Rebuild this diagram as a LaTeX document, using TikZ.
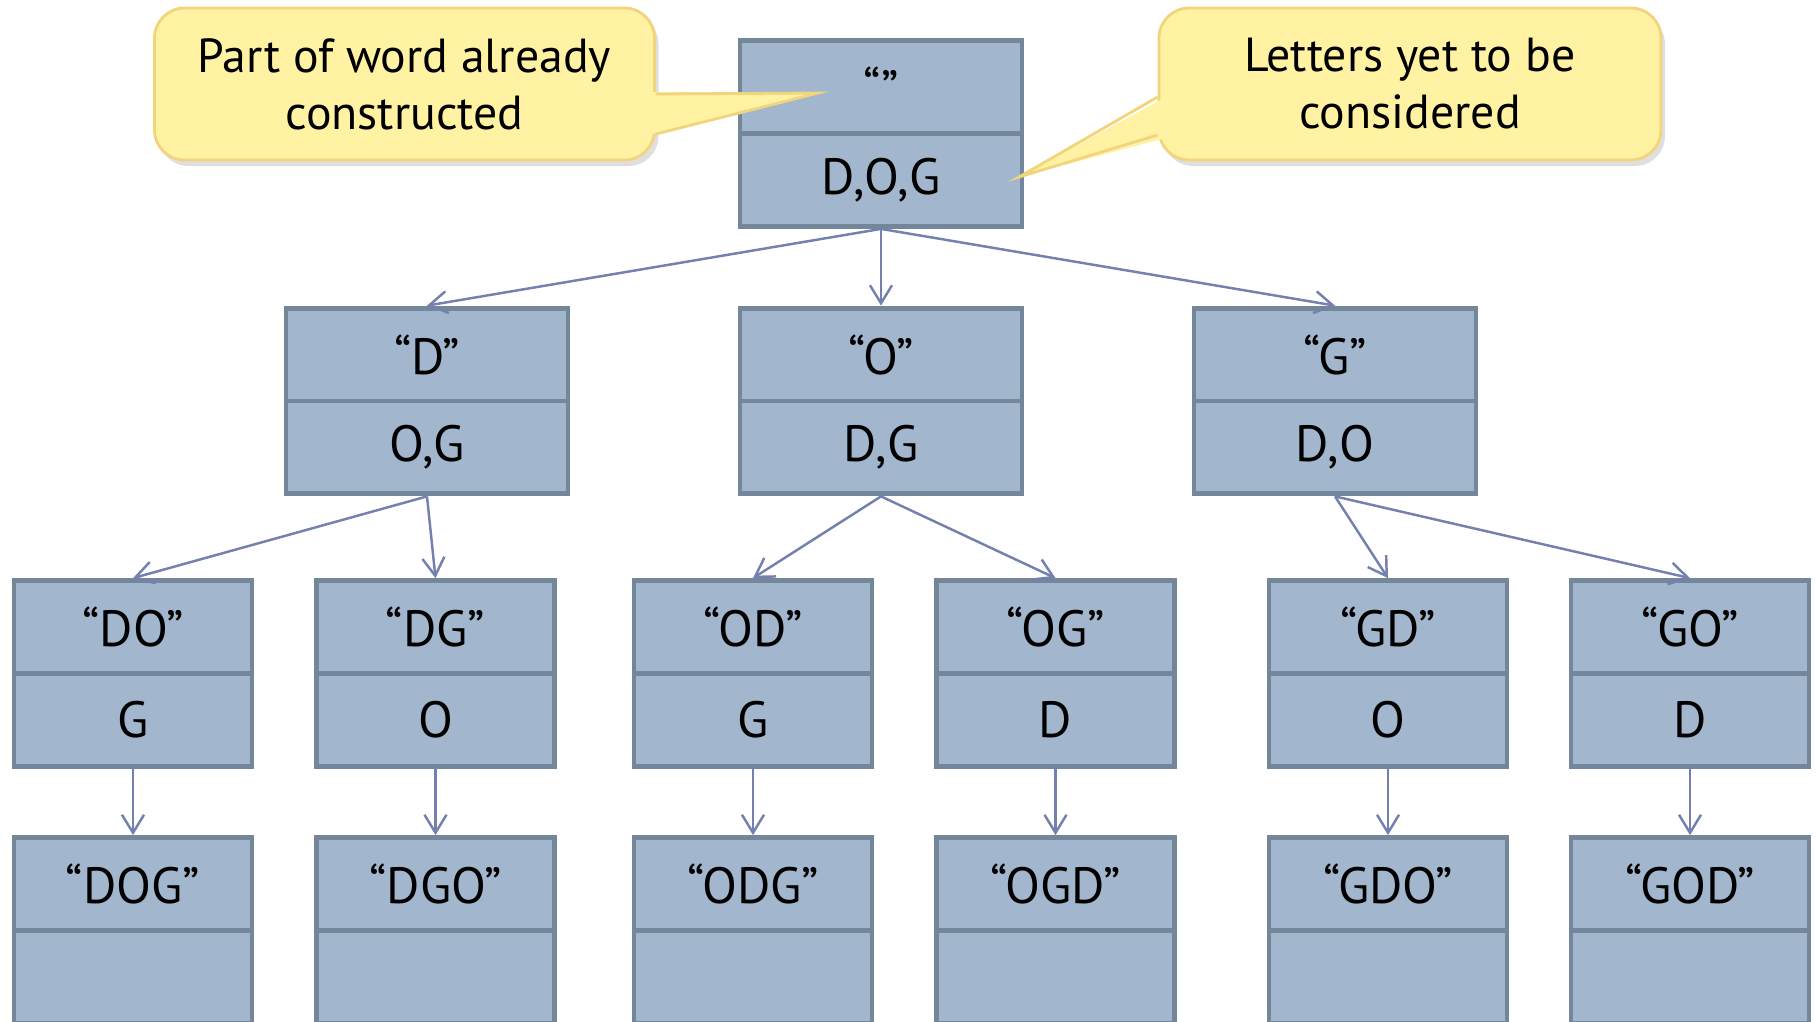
\documentclass[tikz,border=0pt]{standalone}
\usepackage{fontspec}
\setmainfont{PT Sans}
\usepackage{tikz}
\usetikzlibrary{shapes.multipart, arrows.meta, shadows, positioning}
\definecolor{boxfill}{HTML}{A2B7CD}
\definecolor{boxline}{HTML}{74879A}
\definecolor{linkblue}{HTML}{7480AE}
\definecolor{notefill}{HTML}{FFF2A2}
\definecolor{noteline}{HTML}{F2D47C}
\tikzstyle{stage} = [rectangle split, rectangle split parts=2, inner sep=0pt, draw=boxline, line width=1.4pt, fill=boxfill, font=\fontsize{14.5pt}{16pt}\selectfont]
\tikzstyle{note} = [rectangle, rounded corners=0.3cm, minimum width=5cm, minimum height=1.52cm, align=center, draw=noteline, line width=0.8pt, fill=notefill, drop shadow={shadow xshift=0.04cm, shadow yshift=-0.06cm, opacity=0.25}, font=\fontsize{13.6pt}{16.2pt}\selectfont]
\tikzstyle{pointer} = [draw=noteline, line width=0.8pt]
\tikzstyle{arrow} = [line width=0.7pt, draw=linkblue, -{Straight Barb[length=1.8mm,width=2.2mm]}]
\newcommand{\bigstage}[2]{\parbox[c][0.88cm][c]{2.82cm}{\centering #1}\nodepart{two}\parbox[c][0.88cm][c]{2.82cm}{\centering #2}}
\newcommand{\smallstage}[2]{\parbox[c][0.88cm][c]{2.38cm}{\centering #1}\nodepart{two}\parbox[c][0.88cm][c]{2.38cm}{\centering #2}}

\begin{document}
\begin{tikzpicture}[node distance=2.57cm]
\useasboundingbox (0,0) rectangle (18.16,-10.21);
\clip (0,0) rectangle (18.16,-10.21);

% tree of partial words
\node (root) [stage] at (8.81,-1.335) {\bigstage{“”}{D,O,G}};
\node (d) [stage] at (4.27,-4.01) {\bigstage{“D”}{O,G}};
\node (o) [stage] at (8.81,-4.01) {\bigstage{“O”}{D,G}};
\node (g) [stage] at (13.35,-4.01) {\bigstage{“G”}{D,O}};
\node (do) [stage] at (1.33,-6.735) {\smallstage{“DO”}{G}};
\node (dg) [stage] at (4.355,-6.735) {\smallstage{“DG”}{O}};
\node (od) [stage] at (7.53,-6.735) {\smallstage{“OD”}{G}};
\node (og) [stage] at (10.555,-6.735) {\smallstage{“OG”}{D}};
\node (gd) [stage] at (13.88,-6.735) {\smallstage{“GD”}{O}};
\node (go) [stage] at (16.90,-6.735) {\smallstage{“GO”}{D}};
\node (dog) [stage, below of=do] {\smallstage{“DOG”}{}};
\node (dgo) [stage, below of=dg] {\smallstage{“DGO”}{}};
\node (odg) [stage, below of=od] {\smallstage{“ODG”}{}};
\node (ogd) [stage, below of=og] {\smallstage{“OGD”}{}};
\node (gdo) [stage, below of=gd] {\smallstage{“GDO”}{}};
\node (god) [stage, below of=go] {\smallstage{“GOD”}{}};

% links
\draw [arrow](root.south) -- (d.north);
\draw [arrow](root.south) -- (o.north);
\draw [arrow](root.south) -- (g.north);
\draw [arrow](d.south) -- (do.north);
\draw [arrow](d.south) -- (dg.north);
\draw [arrow](o.south) -- (od.north);
\draw [arrow](o.south) -- (og.north);
\draw [arrow](g.south) -- (gd.north);
\draw [arrow](g.south) -- (go.north);
\draw [arrow](do.south) -- (dog.north);
\draw [arrow](dg.south) -- (dgo.north);
\draw [arrow](od.south) -- (odg.north);
\draw [arrow](og.south) -- (ogd.north);
\draw [arrow](gd.south) -- (gdo.north);
\draw [arrow](go.south) -- (god.north);

% callouts
\node (partnote) [note] at (4.045,-0.84) {Part of word already\\constructed};
\node (letternote) [note, minimum width=5.02cm] at (14.10,-0.84) {Letters yet to be\\considered};
\coordinate (parttip) at (8.18,-0.93);
\coordinate (lettertip) at (10.19,-1.77);
\fill [notefill] ([shift={(-0.12,-0.08)}]partnote.east) -- (parttip) -- ([shift={(-0.12,-0.52)}]partnote.east) -- cycle;
\draw [pointer] ([yshift=-0.1cm]partnote.east) -- (parttip) -- ([yshift=-0.5cm]partnote.east);
\fill [notefill] ([shift={(0.12,-0.11)}]letternote.west) -- (lettertip) -- ([shift={(0.12,-0.53)}]letternote.west) -- cycle;
\draw [pointer] ([yshift=-0.13cm]letternote.west) -- (lettertip) -- ([yshift=-0.51cm]letternote.west);
\end{tikzpicture}
\end{document}
